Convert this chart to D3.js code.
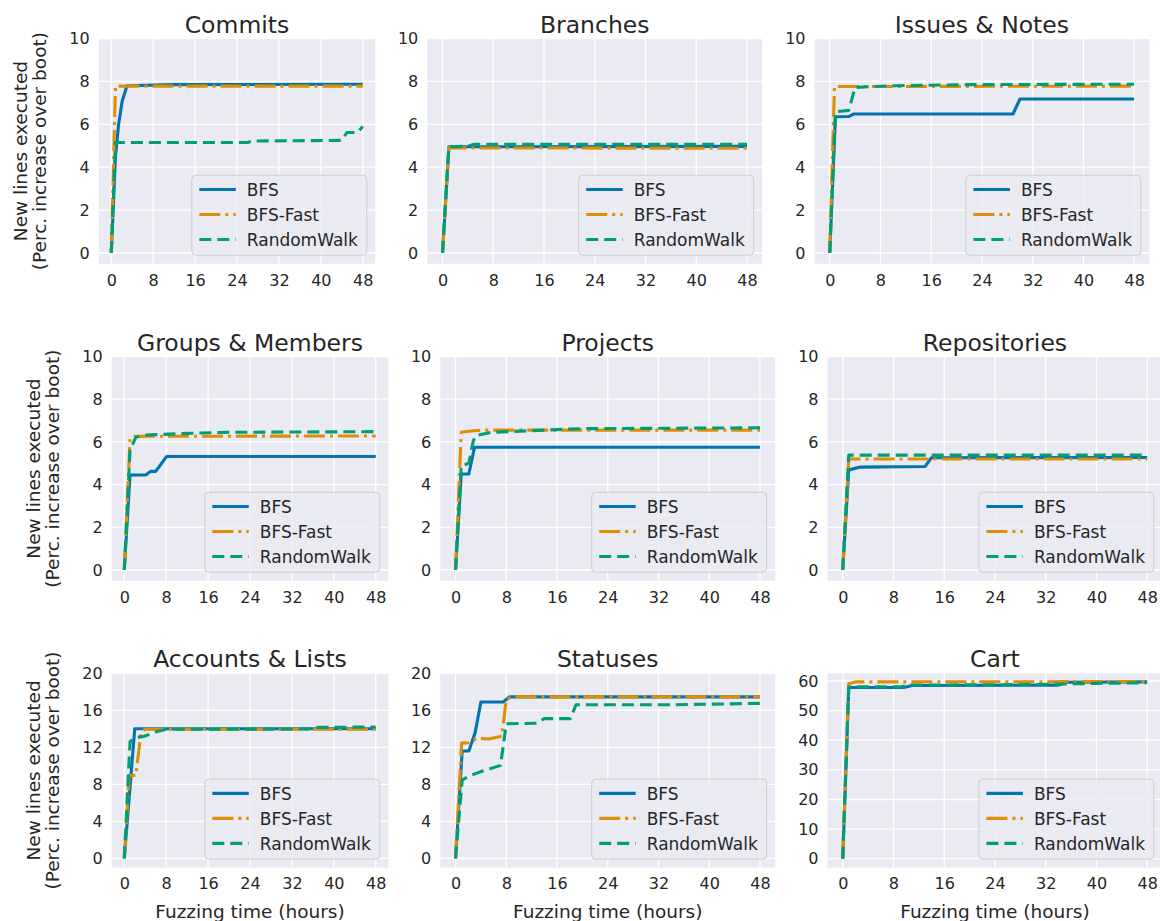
<!DOCTYPE html>
<html>
<head>
<meta charset="utf-8">
<script src="https://cdn.jsdelivr.net/npm/d3@7"></script>
<style>
  body { margin: 0; background: #fff; overflow: hidden; }
  svg { display: block; font-family: "DejaVu Sans", sans-serif; }
</style>
</head>
<body>
<div id="chart"></div>
<script>
// series values: [hours, % increase]
const commitsBfs = [[0, 0], [0.8, 4.5], [1.4, 6.0], [2.1, 7.1], [3, 7.8], [12, 7.85], [48, 7.87]];
const commitsFast = [[0, 0], [0.8, 7.78], [48, 7.78]];
const commitsRw = [[0, 0], [0.8, 5.15], [26, 5.15], [27, 5.22], [44, 5.25], [45, 5.62], [47, 5.62], [48, 5.9]];

const branchesBfs = [[0, 0], [1, 4.95], [48, 4.97]];
const branchesFast = [[0, 0], [1, 4.9], [48, 4.88]];
const branchesRw = [[0, 0], [1, 4.95], [4, 4.98], [5, 5.07], [48, 5.07]];

const issuesBfs = [[0, 0], [0.9, 6.35], [3, 6.36], [3.8, 6.48], [28.9, 6.48], [30, 7.18], [48, 7.18]];
const issuesFast = [[0, 0], [0.75, 7.76], [48, 7.78]];
const issuesRw = [[0, 0], [0.9, 6.58], [3, 6.65], [4, 7.72], [10, 7.8], [22, 7.85], [48, 7.87]];

const groupsBfs = [[0, 0], [1.1, 4.45], [4.1, 4.45], [5, 4.62], [6, 4.62], [8.1, 5.32], [48, 5.32]];
const groupsFast = [[0, 0], [1.1, 6.15], [1.9, 6.26], [48, 6.28]];
const groupsRw = [[0, 0], [1.1, 5.6], [2.2, 6.22], [4, 6.32], [12, 6.4], [20, 6.45], [48, 6.48]];

const projectsBfs = [[0, 0], [0.9, 4.5], [2.1, 4.5], [3, 5.75], [48, 5.75]];
const projectsFast = [[0, 0], [0.9, 6.45], [2, 6.5], [4, 6.55], [48, 6.55]];
const projectsRw = [[0, 0], [0.9, 4.88], [2.1, 5.0], [2.8, 6.05], [3.2, 6.3], [5.6, 6.45], [19.7, 6.62], [48, 6.66]];

const reposBfs = [[0, 0], [0.95, 4.69], [2.8, 4.82], [13, 4.85], [14, 5.26], [48, 5.27]];
const reposFast = [[0, 0], [0.95, 5.2], [48, 5.2]];
const reposRw = [[0, 0], [0.95, 5.38], [48, 5.38]];

const accountsBfs = [[0, 0], [2, 14.0], [48, 14.0]];
const accountsFast = [[0, 0], [0.95, 8.95], [2.2, 8.95], [3.2, 13.65], [4, 13.95], [48, 13.95]];
const accountsRw = [[0, 0], [1.1, 12.6], [1.9, 13.0], [3.8, 13.2], [6.3, 13.7], [8, 13.95], [35, 13.98], [36.5, 14.15], [48, 14.2]];

const statusesBfs = [[0, 0], [1.05, 11.6], [2.1, 11.6], [3.1, 13.6], [4, 16.9], [7.5, 16.9], [8.5, 17.45], [48, 17.45]];
const statusesFast = [[0, 0], [0.95, 12.45], [2.1, 12.5], [3.4, 13.0], [5.2, 12.9], [7.3, 13.2], [8, 17.2], [9, 17.45], [48, 17.45]];
const statusesRw = [[0, 0], [1.05, 8.45], [2.1, 8.9], [3.9, 9.35], [7.1, 10.05], [8, 14.55], [12.8, 14.6], [14, 15.1], [18.1, 15.1], [19, 16.6], [34, 16.6], [48, 16.75]];

const cartBfs = [[0, 0], [0.95, 57.8], [9.6, 57.8], [11, 58.5], [34, 58.6], [35.3, 59.6], [48, 59.7]];
const cartFast = [[0, 0], [0.95, 59.1], [2, 59.7], [48, 59.8]];
const cartRw = [[0, 0], [0.95, 58.0], [9, 58.0], [10.6, 58.6], [30, 58.8], [40, 59.2], [48, 59.4]];

const titles = ["Commits", "Branches", "Issues & Notes", "Groups & Members", "Projects", "Repositories",
  "Accounts & Lists", "Statuses", "Cart"];
const seriesNames = ["BFS", "BFS-Fast", "RandomWalk"];
const xTicks = [0, 8, 16, 24, 32, 40, 48];
const yTicksSmall = [0, 2, 4, 6, 8, 10];
const yTicksMid = [0, 4, 8, 12, 16, 20];
const yTicksCart = [0, 10, 20, 30, 40, 50, 60];

const panelData = [
  [commitsBfs, commitsFast, commitsRw], [branchesBfs, branchesFast, branchesRw], [issuesBfs, issuesFast, issuesRw],
  [groupsBfs, groupsFast, groupsRw], [projectsBfs, projectsFast, projectsRw], [reposBfs, reposFast, reposRw],
  [accountsBfs, accountsFast, accountsRw], [statusesBfs, statusesFast, statusesRw], [cartBfs, cartFast, cartRw]
];

// layout (pixels)
const rowBox = [[38.5, 263.7], [356.5, 580.7], [673.3, 867.6]];
const colBox = [
  [[98.7, 375.3], [427.3, 762.2], [814.5, 1149.4]],
  [[111.7, 388.3], [440.3, 775.2], [827.5, 1162.4]],
  [[111.7, 388.3], [440.3, 775.2], [827.5, 1162.4]]
];

const colors = ["#0173b2", "#de8f05", "#029e73"];
const dashes = [null, "21,5,3,5", "12,6"];
const textColor = "#262626";

const svg = d3.select("#chart").append("svg")
  .attr("width", 1160)
  .attr("height", 921);

titles.forEach((title, i) => {
  const row = Math.floor(i / 3), col = i % 3;
  const [left, right] = colBox[row][col];
  const [top, bottom] = rowBox[row];
  const w = right - left, h = bottom - top;

  let yDomain = [-0.5, 10], yTicks = yTicksSmall;
  if (row === 2) { yDomain = [-1, 20]; yTicks = yTicksMid; }
  if (i === 8) { yDomain = [-3, 62.6]; yTicks = yTicksCart; }

  const x = d3.scaleLinear().domain([-2.4, 50.4]).range([0, w]);
  const y = d3.scaleLinear().domain(yDomain).range([h, 0]);

  const g = svg.append("g").attr("transform", `translate(${left}, ${top})`);

  g.append("rect").attr("width", w).attr("height", h).attr("fill", "#eaeaf2");

  // grid
  g.append("g").selectAll("line").data(xTicks).join("line")
    .attr("x1", (d) => x(d)).attr("x2", (d) => x(d))
    .attr("y1", 0).attr("y2", h)
    .attr("stroke", "#fff").attr("stroke-width", 1.3);
  g.append("g").selectAll("line").data(yTicks).join("line")
    .attr("x1", 0).attr("x2", w)
    .attr("y1", (d) => y(d)).attr("y2", (d) => y(d))
    .attr("stroke", "#fff").attr("stroke-width", 1.3);

  // axes
  const xAxis = g.append("g").attr("transform", `translate(0, ${h})`)
    .call(d3.axisBottom(x).tickValues(xTicks).tickSize(0).tickPadding(10.5));
  const yAxis = g.append("g")
    .call(d3.axisLeft(y).tickValues(yTicks).tickSize(0).tickPadding(9));
  [xAxis, yAxis].forEach((a) => {
    a.select(".domain").remove();
    a.selectAll("text").attr("fill", textColor).style("font-size", "16px")
      .style("font-family", "DejaVu Sans");
  });

  // lines
  const line = d3.line().x((d) => x(d[0])).y((d) => y(d[1]));
  panelData[i].forEach((s, k) => {
    g.append("path").datum(s)
      .attr("d", line)
      .attr("fill", "none")
      .attr("stroke", colors[k])
      .attr("stroke-width", 3.1)
      .attr("stroke-linejoin", "round")
      .attr("stroke-dasharray", dashes[k]);
  });

  // title
  g.append("text")
    .attr("x", w / 2).attr("y", -6)
    .attr("text-anchor", "middle")
    .attr("fill", textColor)
    .style("font-size", "23.5px")
    .text(title);

  // legend
  const lw = 175, lh = 80;
  const lg = g.append("g").attr("transform", `translate(${w - 8.5 - lw}, ${h - 8.5 - lh})`);
  lg.append("rect").attr("width", lw).attr("height", lh).attr("rx", 4)
    .attr("fill", "#eaeaf2").attr("fill-opacity", 0.8)
    .attr("stroke", "#cccccc").attr("stroke-width", 1);
  seriesNames.forEach((name, k) => {
    const cy = 14.3 + k * 25;
    lg.append("line")
      .attr("x1", 7.5).attr("x2", 44).attr("y1", cy).attr("y2", cy)
      .attr("stroke", colors[k]).attr("stroke-width", 3.1)
      .attr("stroke-dasharray", dashes[k]);
    lg.append("text")
      .attr("x", 55).attr("y", cy).attr("dy", "0.36em")
      .attr("fill", textColor)
      .style("font-size", "17px")
      .text(name);
  });

  // y label on first column
  if (col === 0) {
    const cy = h / 2;
    g.append("text")
      .attr("transform", `translate(-72, ${cy}) rotate(-90)`)
      .attr("text-anchor", "middle").attr("fill", textColor)
      .style("font-size", "18.5px")
      .text("New lines executed");
    g.append("text")
      .attr("transform", `translate(-52.5, ${cy}) rotate(-90)`)
      .attr("text-anchor", "middle").attr("fill", textColor)
      .style("font-size", "18.5px")
      .text("(Perc. increase over boot)");
  }

  // x label on last row
  if (row === 2) {
    g.append("text")
      .attr("x", w / 2).attr("y", h + 50)
      .attr("text-anchor", "middle").attr("fill", textColor)
      .style("font-size", "18.5px")
      .text("Fuzzing time (hours)");
  }
});
</script>
</body>
</html>
